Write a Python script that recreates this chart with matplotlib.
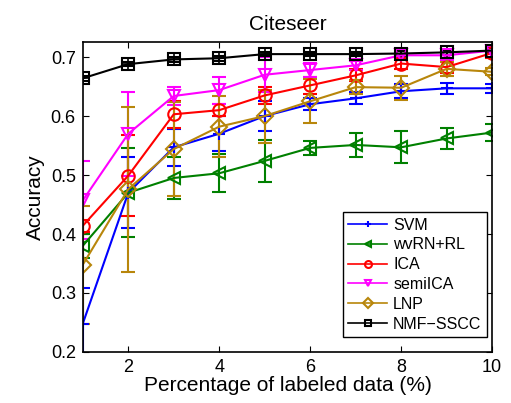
import numpy as np
import matplotlib.pyplot as plt
from matplotlib.lines import Line2D

plt.rcParams['font.family'] = ['Liberation Sans', 'DejaVu Sans']

x = np.arange(1, 11)

svm = [0.248, 0.470, 0.547, 0.570, 0.600, 0.620, 0.630, 0.642, 0.647, 0.647]
svm_err = [0.06, 0.06, 0.031, 0.03, 0.025, 0.01, 0.01, 0.012, 0.009, 0.008]
wvrn = [0.380, 0.470, 0.495, 0.503, 0.524, 0.546, 0.551, 0.547, 0.562, 0.572]
wvrn_err = [0.02, 0.075, 0.035, 0.032, 0.035, 0.012, 0.02, 0.027, 0.018, 0.015]
ica = [0.414, 0.499, 0.603, 0.610, 0.635, 0.652, 0.669, 0.689, 0.683, 0.707]
ica_err = [0.01, 0.069, 0.023, 0.01, 0.015, 0.015, 0.01, 0.01, 0.01, 0.008]
semiica = [0.457, 0.570, 0.634, 0.644, 0.670, 0.678, 0.686, 0.703, 0.703, 0.711]
semiica_err = [0.066, 0.071, 0.015, 0.023, 0.03, 0.012, 0.008, 0.008, 0.008, 0.006]
lnp = [0.348, 0.476, 0.544, 0.582, 0.600, 0.625, 0.649, 0.648, 0.680, 0.675]
lnp_err = [0.10, 0.14, 0.08, 0.052, 0.045, 0.037, 0.012, 0.02, 0.012, 0.006]
nmf = [0.664, 0.688, 0.696, 0.698, 0.705, 0.705, 0.705, 0.706, 0.708, 0.711]
nmf_err = [0.004, 0.004, 0.004, 0.004, 0.004, 0.004, 0.004, 0.004, 0.004, 0.004]

series = [
    ('SVM', svm, svm_err, '#0000ff', '+'),
    ('wvRN+RL', wvrn, wvrn_err, '#008000', '<'),
    ('ICA', ica, ica_err, '#ff0000', 'o'),
    ('semiICA', semiica, semiica_err, '#ff00ff', 'v'),
    ('LNP', lnp, lnp_err, '#b8860b', 'D'),
    ('NMF\u2212SSCC', nmf, nmf_err, '#000000', 's'),
]

fig = plt.figure(figsize=(5.11, 4.03), dpi=100)
ax = fig.add_axes([0.162, 0.1266, 0.801, 0.7684])

handles = []
for name, y, e, c, m in series:
    ms = 9 if m != 'D' else 8
    ax.errorbar(x, y, yerr=e, color=c, marker=m, markersize=ms, mfc='none',
                mec=c, mew=1.5, lw=1.5, capsize=5, capthick=1.5)
    if m == 's':
        ax.plot(x, y, '+', color=c, markersize=7, mew=1.2)
    handles.append(Line2D([], [], color=c, marker=m, markersize=5, mfc='none',
                          mec=c, mew=1.5, lw=1.2, label=name))

ax.set_xlim(1, 10)
ax.set_ylim(0.2, 0.725)
ax.set_xticks([2, 4, 6, 8, 10])
ax.set_xticks(np.arange(1, 11), minor=True)
ax.set_yticks([0.2, 0.3, 0.4, 0.5, 0.6, 0.7])
ax.tick_params(which='both', direction='in', top=True, right=True, labelsize=13)
ax.tick_params(which='minor', length=0)
ax.tick_params(which='major', length=4, pad=5)
for s in ax.spines.values():
    s.set_linewidth(1.2)

ax.set_title('Citeseer', fontsize=15, pad=9)
ax.set_xlabel('Percentage of labeled data (%)', fontsize=15, labelpad=0)
ax.set_ylabel('Accuracy', fontsize=15, labelpad=4)
ax.legend(handles=handles, loc='lower right', bbox_to_anchor=(0.988, 0.048),
          fontsize=11.5, frameon=True, fancybox=False, edgecolor='black',
          handlelength=2.4, borderpad=0.35, labelspacing=0.3, handletextpad=0.4,
          borderaxespad=0, framealpha=1)

plt.savefig('out.png', dpi=100)
